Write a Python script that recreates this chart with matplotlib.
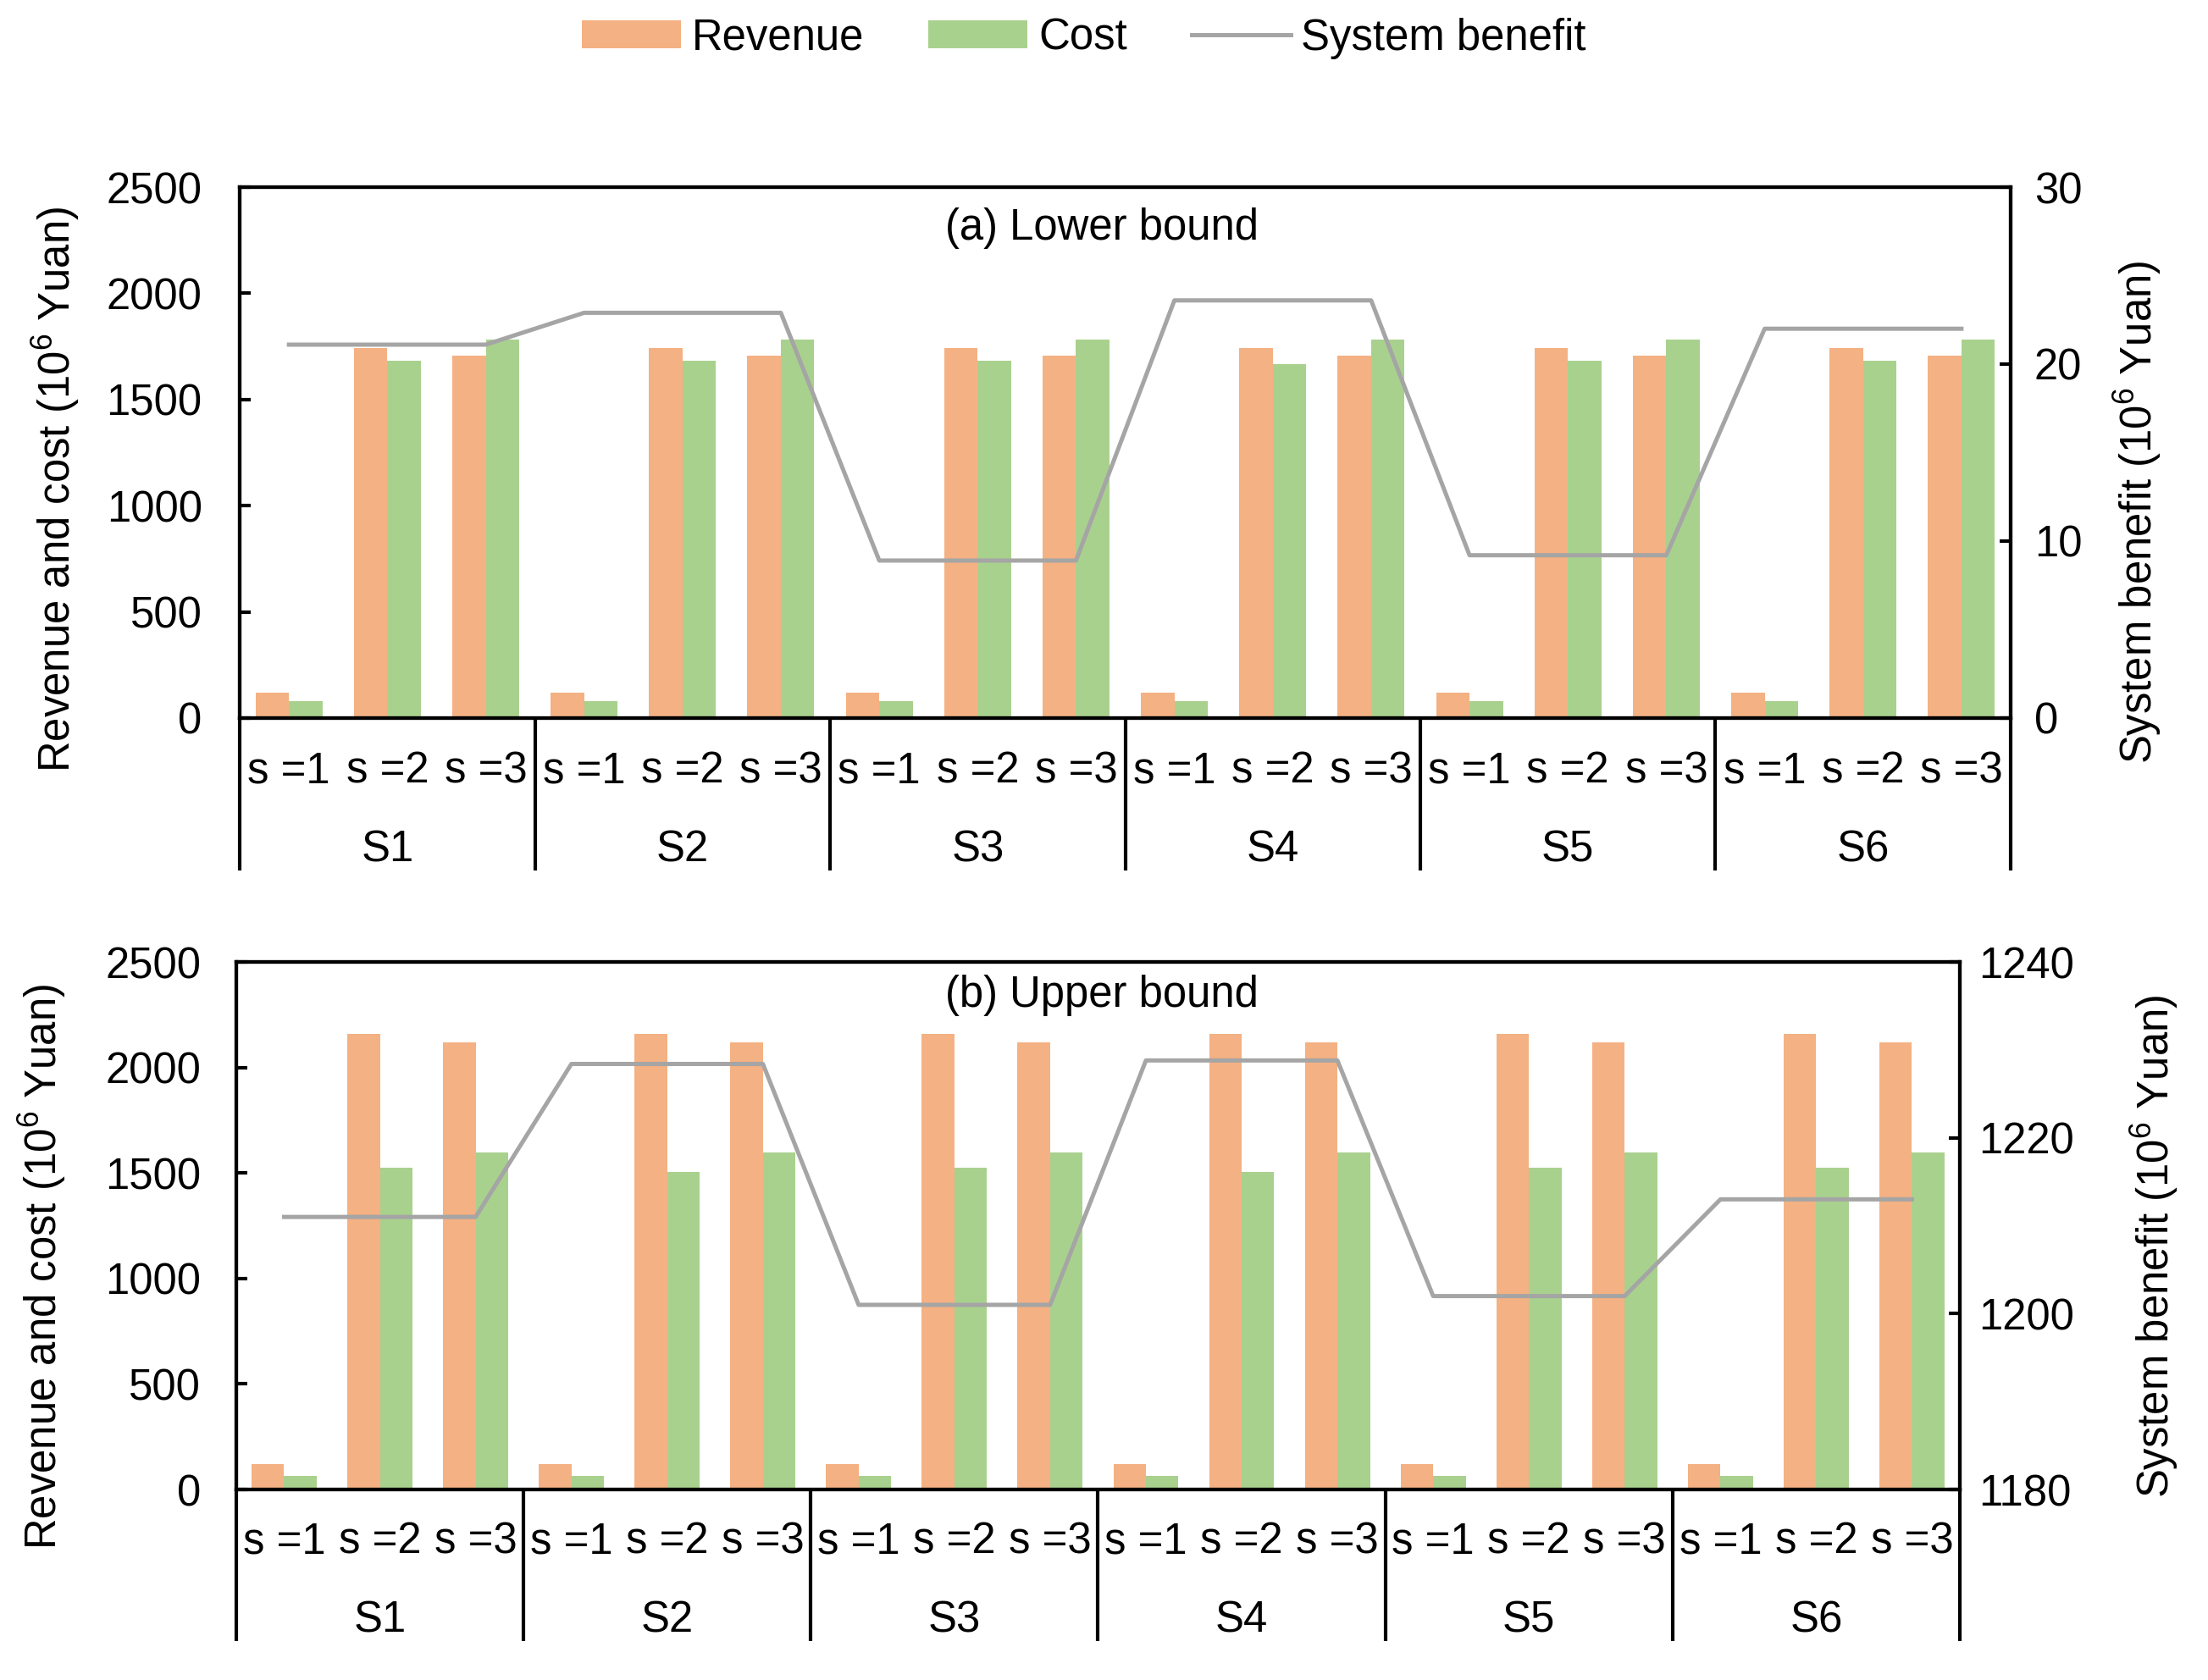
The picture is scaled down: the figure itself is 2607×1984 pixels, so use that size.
import matplotlib.pyplot as plt
from matplotlib import transforms

plt.rcParams['font.family'] = ['Liberation Sans', 'DejaVu Sans']
plt.rcParams['mathtext.fontset'] = 'custom'
plt.rcParams['mathtext.rm'] = 'Liberation Sans'
plt.rcParams['mathtext.it'] = 'Liberation Sans:italic'

scenarios = ['S1', 'S2', 'S3', 'S4', 'S5', 'S6']
states = ['s =1', 's =2', 's =3']

# (a) lower bound, 10^6 Yuan
rev_low = [118, 1741, 1706, 118, 1741, 1706, 118, 1741, 1706,
           118, 1741, 1706, 118, 1741, 1706, 118, 1741, 1706]
cost_low = [78, 1684, 1781, 78, 1684, 1781, 78, 1684, 1781,
            78, 1667, 1781, 78, 1684, 1781, 78, 1684, 1781]
ben_low = [21.1, 21.1, 21.1, 22.9, 22.9, 22.9, 8.9, 8.9, 8.9,
           23.6, 23.6, 23.6, 9.2, 9.2, 9.2, 22.0, 22.0, 22.0]

# (b) upper bound
rev_up = [122, 2160, 2118, 122, 2160, 2118, 122, 2160, 2118,
          122, 2160, 2118, 122, 2160, 2118, 122, 2160, 2118]
cost_up = [65, 1523, 1598, 65, 1505, 1598, 65, 1523, 1598,
           65, 1505, 1598, 65, 1523, 1598, 65, 1523, 1598]
ben_up = [1211.0, 1211.0, 1211.0, 1228.4, 1228.4, 1228.4, 1201.0, 1201.0, 1201.0,
          1228.8, 1228.8, 1228.8, 1202.0, 1202.0, 1202.0, 1213.0, 1213.0, 1213.0]

c_rev = '#F4B183'
c_cost = '#A9D18E'
c_ben = '#A5A5A5'
fs = 18.3
lw_ax = 1.5

fig = plt.figure(figsize=(13.035, 9.92), dpi=200)


def panel(rect, rev, cost, ben, ylim2, yticks2, title, tpos, lpad, rpad):
    ax = fig.add_axes(rect)
    x = list(range(len(rev)))
    w = 0.34
    ax.bar([i - w / 2 for i in x], rev, w, color=c_rev, label='Revenue')
    ax.bar([i + w / 2 for i in x], cost, w, color=c_cost, label='Cost')
    ax.set_xlim(-0.5, len(rev) - 0.5)
    ax.set_ylim(0, 2500)
    ax.set_yticks([0, 500, 1000, 1500, 2000, 2500])
    ax.set_xticks([])
    ax.tick_params(axis='y', direction='in', length=4.7, width=lw_ax, labelsize=fs, pad=lpad)
    for s in ax.spines.values():
        s.set_linewidth(lw_ax)

    ax2 = ax.twinx()
    ax2.plot(x, ben, color=c_ben, lw=1.8, label='System benefit')
    ax2.set_ylim(*ylim2)
    ax2.set_yticks(yticks2)
    ax2.tick_params(axis='y', direction='in', length=4.7, width=lw_ax, labelsize=fs, pad=rpad)
    for s in ax2.spines.values():
        s.set_linewidth(lw_ax)

    # two-level category axis
    trans = transforms.blended_transform_factory(ax.transData, ax.transAxes)
    for k in range(len(scenarios) + 1):
        xd = 3 * k - 0.5
        ax.plot([xd, xd], [0, -0.287], color='black', lw=lw_ax,
                transform=trans, clip_on=False, solid_capstyle='butt')
    for i in x:
        ax.text(i, -0.10, states[i % 3], transform=trans, ha='center',
                va='center', fontsize=fs)
    for k, sc in enumerate(scenarios):
        ax.text(3 * k + 1, -0.249, sc, transform=trans, ha='center',
                va='center', fontsize=fs)

    ax.text(tpos[0], tpos[1], title, transform=ax.transAxes, ha='center',
            va='center', fontsize=fs)
    return ax, ax2


ax_a, ax_a2 = panel([0.1086, 0.5726, 0.802, 0.316], rev_low, cost_low, ben_low,
                    (0, 30), [0, 10, 20, 30], '(a) Lower bound', (0.487, 0.923), 16, 10)
ax_b, ax_b2 = panel([0.107, 0.1134, 0.7806, 0.314], rev_up, cost_up, ben_up,
                    (1180, 1240), [1180, 1200, 1220, 1240], '(b) Upper bound', (0.502, 0.937), 15, 8)

ylab = 'Revenue and cost (10$^6$ Yuan)'
rlab = 'System benefit (10$^6$ Yuan)'
fig.text(66 / 2607, 1 - 578 / 1984, ylab, rotation=90, ha='center', va='center', fontsize=fs)
fig.text(2524 / 2607, 1 - 605 / 1984, rlab, rotation=90, ha='center', va='center', fontsize=fs)
fig.text(50 / 2607, 1 - 1496 / 1984, ylab, rotation=90, ha='center', va='center', fontsize=fs)
fig.text(2544 / 2607, 1 - 1472 / 1984, rlab, rotation=90, ha='center', va='center', fontsize=fs)

h1, l1 = ax_a.get_legend_handles_labels()
h2, l2 = ax_a2.get_legend_handles_labels()
fig.legend(h1 + h2, l1 + l2, loc='center', bbox_to_anchor=(1280 / 2607, 1 - 45 / 1984),
           ncol=3, frameon=False, fontsize=fs, handlelength=2.3, handleheight=0.6,
           handletextpad=0.25, columnspacing=1.5)

fig.savefig('out.png', dpi=200)
